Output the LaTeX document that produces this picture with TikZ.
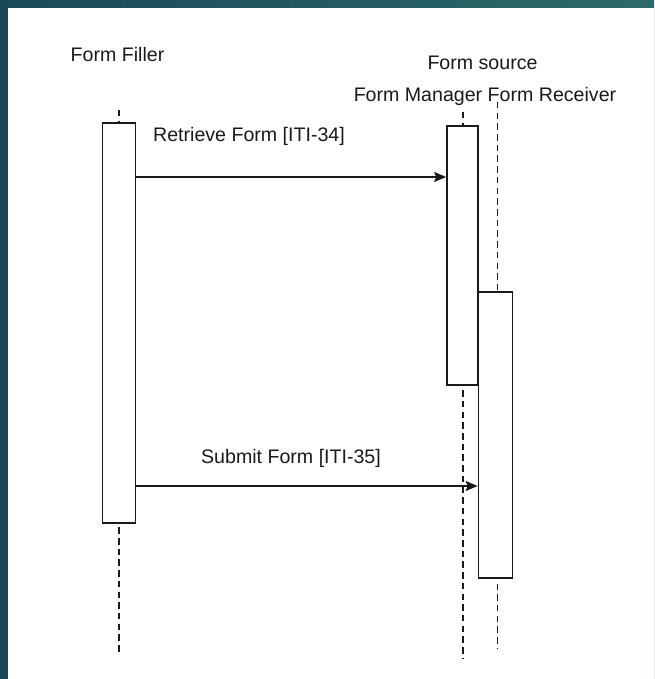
\documentclass[tikz,border=0pt]{standalone}
\usepackage{fontspec}
\setmainfont{Liberation Sans}
\usepackage{tikz}
\usetikzlibrary{arrows.meta,calc}
\definecolor{sqInk}{HTML}{1A1A1A}
\definecolor{sqTealL}{HTML}{1B4858}
\definecolor{sqTealR}{HTML}{2C6B69}
\tikzset{
  actor/.style={text=sqInk, font=\fontsize{19.6}{24}\selectfont, inner sep=0pt, anchor=base},
  lifeline/.style={sqInk, line width=1.9pt, dash pattern=on 6.5pt off 4.2pt},
  act/.style={draw=sqInk, line width=1.7pt, fill=white, inner sep=0pt},
  msg/.style={-{Stealth[length=12pt,width=10pt,inset=2pt]}, line width=1.7pt, sqInk},
  msglabel/.style={text=sqInk, font=\fontsize{19.6}{24}\selectfont, inner sep=0pt, anchor=base},
}

\begin{document}
\begin{tikzpicture}[x=1pt,y=-1pt]
  \useasboundingbox (0,0) rectangle (654,679);
  % frame
  \shade[left color=sqTealL, right color=sqTealR] (0,0) rectangle (654,679);
  \fill[white] (8,8) rectangle (654,679);
  % participants
  \node[actor] (filler) at (117.5,62) {Form Filler};
  \node[actor] (source) at (482.5,70) {Form source};
  \node[actor] (mgrrcv) at (485,102) {Form Manager Form Receiver};
  % lifelines
  \coordinate (fillTop) at (119,110);  \coordinate (fillBot) at (119,655);
  \coordinate (mgrTop) at (463,112);   \coordinate (mgrBot) at (463,658);
  \coordinate (rcvTop) at (497.5,102); \coordinate (rcvBot) at (497.5,648);
  \draw[lifeline] (fillTop) -- (fillBot);
  \draw[lifeline] (mgrTop) -- (mgrBot);
  \draw[lifeline] (rcvTop) -- (rcvBot);
  % activations
  \node[act, minimum width=33, minimum height=400] (fillAct) at (119,323) {};
  \node[act, minimum width=31, minimum height=259] (mgrAct) at (462.5,255.5) {};
  \node[act, minimum width=34, minimum height=286] (rcvAct) at (495.5,435) {};
  % messages
  \coordinate (retr) at (0,177);
  \coordinate (subm) at (0,486);
  \draw[msg] (fillAct.east |- retr) -- (mgrAct.west |- retr);
  \node[msglabel] (retrLbl) at (249,142) {Retrieve Form [ITI-34]};
  \draw[msg] (fillAct.east |- subm) -- (rcvAct.west |- subm);
  \node[msglabel] (submLbl) at (291,463) {Submit Form [ITI-35]};
\end{tikzpicture}
\end{document}
